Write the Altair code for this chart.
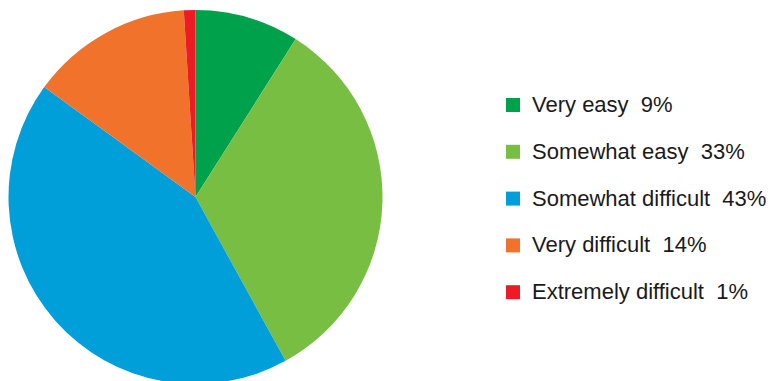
import altair as alt
import pandas as pd

categories = ["Very easy", "Somewhat easy", "Somewhat difficult", "Very difficult", "Extremely difficult"]
values = [9, 33, 43, 14, 1]
colors = ["#00A14B", "#78BE43", "#009FDA", "#F1722A", "#ED1C24"]

labels = [f"{c}\u00a0\u00a0{v}%" for c, v in zip(categories, values)]
df = pd.DataFrame({"label": labels, "value": values, "order": list(range(len(values)))})

chart = alt.Chart(df).mark_arc(outerRadius=187).encode(
    theta=alt.Theta("value:Q", stack=True),
    order=alt.Order("order:Q"),
    color=alt.Color(
        "label:N",
        sort=labels,
        scale=alt.Scale(domain=labels, range=colors),
        legend=alt.Legend(
            title=None,
            orient="none",
            legendX=494,
            legendY=86,
            symbolType="square",
            symbolSize=196,
            symbolStrokeWidth=0,
            labelFontSize=22,
            labelFont="Liberation Sans",
            labelColor="#1a1a1a",
            labelOffset=8,
            rowPadding=24.8,
            padding=0,
            labelLimit=400,
        ),
    ),
).properties(width=375, height=378, padding=0).configure_view(stroke=None)

chart.save("out.html", embed_options={"renderer": "svg", "actions": False})
